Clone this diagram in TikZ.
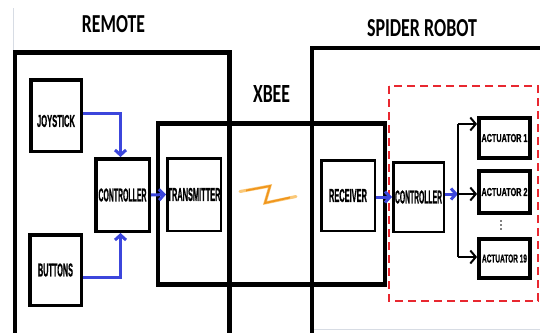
\documentclass[tikz,border=0pt]{standalone}
\usepackage{fontspec}
\setmainfont{Liberation Sans}[BoldFeatures={FakeBold=1.2}]
\newfontfamily\titlefont{Carlito}
\usetikzlibrary{arrows.meta}
\definecolor{arrowblue}{RGB}{60,70,220}
\definecolor{dashred}{RGB}{232,40,48}
\definecolor{boltorange}{RGB}{240,150,30}
\definecolor{boltlight}{RGB}{250,200,120}
\definecolor{ghost}{RGB}{215,220,228}
\newcommand{\fitlbl}[3]{\resizebox{#1pt}{#2pt}{\bfseries #3}}
\newcommand{\fittitle}[3]{\resizebox{#1pt}{#2pt}{\titlefont\bfseries #3}}
\begin{document}
\begin{tikzpicture}[x=1pt,y=-1pt,
  box/.style={draw=black, inner sep=0pt, line width=3.5pt},
  thinbox/.style={box, line width=2.5pt},
  actbox/.style={box, line width=3.8pt},
  txt/.style={inner sep=0pt},
  outer/.style={line width=4.5pt},
  flow/.style={draw=arrowblue, line width=3pt, -{Straight Barb[length=5pt,width=11pt]}},
  fan/.style={line width=2pt, -{Straight Barb[length=5.5pt,width=13pt]}},
  fanline/.style={line width=2pt},
  ]
\useasboundingbox (0,0) rectangle (540,332);
\clip (0,0) rectangle (540,332);

% faint artefact lines
\draw[ghost, line width=0.8pt] (13,8) -- (13,50);
\draw[ghost, line width=0.8pt] (314,329) -- (540,329);

% containers
\draw[outer] (15,340) -- (15,52.5) -- (229.5,52.5) -- (229.5,340);
\draw[outer] (312,340) -- (312,48) -- (545,48);
\draw[outer] (158,123.5) rectangle (385,284.5);
\draw[dashred, line width=2.5pt, dash pattern=on 8pt off 5pt] (389,86) rectangle (538,301);

% titles
\node[txt] (tremote) at (113.5,24.5) {\fittitle{63}{17}{REMOTE}};
\node[txt] (tspider) at (422,28.5) {\fittitle{110}{17}{SPIDER ROBOT}};
\node[txt] (txbee) at (271.5,93.5) {\fittitle{37}{17}{XBEE}};

% remote blocks
\node[box, minimum width=50.5pt, minimum height=71.5pt] (joy) at (56,115.5) {};
\node[txt] (joyt) at (56,121) {\fitlbl{38}{12}{JOYSTICK}};
\node[box, minimum width=51.5pt, minimum height=70.5pt] (btn) at (55.5,270) {\fitlbl{35}{13}{BUTTONS}};
\node[box, minimum width=53.5pt, minimum height=72.5pt] (ctrla) at (122.5,195) {\fitlbl{48}{13}{CONTROLLER}};
\node[thinbox, minimum width=53.5pt, minimum height=72.5pt] (tx) at (194,194.5) {\fitlbl{53}{13}{TRANSMITTER}};

% robot blocks
\node[thinbox, minimum width=53.5pt, minimum height=70.5pt] (rx) at (348,195.5) {\fitlbl{38}{13}{RECEIVER}};
\node[thinbox, minimum width=50.5pt, minimum height=69.5pt] (ctrlb) at (418.5,197) {\fitlbl{47}{13}{CONTROLLER}};
\node[actbox, minimum width=51pt, minimum height=40pt] (act1) at (504.5,138) {\fitlbl{46}{8}{ACTUATOR 1}};
\node[actbox, minimum width=51pt, minimum height=42pt] (act2) at (504.5,192) {\fitlbl{46}{8}{ACTUATOR 2}};
\node[actbox, minimum width=51pt, minimum height=39pt] (act19) at (504.5,258.5) {\fitlbl{45}{8}{ACTUATOR 19}};

% dots
\fill (501,221) circle[radius=0.9pt];
\fill (501,225) circle[radius=0.9pt];
\fill (501,229) circle[radius=0.9pt];

% remote connectors
\draw[flow] ([yshift=2.5pt]joy.east) -| ([xshift=-2pt]ctrla.north);
\draw[flow] ([yshift=-7pt]btn.east) -| ([xshift=-2pt]ctrla.south);
\draw[flow] (ctrla.east) -- (tx.west);

% robot connectors
\coordinate (br) at (458,194);
\coordinate (b1) at (458,124);
\coordinate (b19) at (458,257);
\draw[flow] (rx.east |- ctrlb.west) -- (ctrlb.west);
\draw[flow] (ctrlb.east |- br) -- (br);
\draw[fanline] (b1) -- (b19);
\draw[fan] (b1) -- (b1 -| act1.west);
\draw[fan] (br) -- (br -| act2.west);
\draw[fan] (b19) -- (b19 -| act19.west);

% wireless link
\draw[boltlight, line width=3pt, line join=miter, line cap=round] (240,191.5) -- (270,186) -- (265,203) -- (296,196.5);
\draw[boltorange, line width=1.8pt, line join=miter] (246,190.5) -- (270,186) -- (265,203) -- (290,197.5);
\end{tikzpicture}
\end{document}
